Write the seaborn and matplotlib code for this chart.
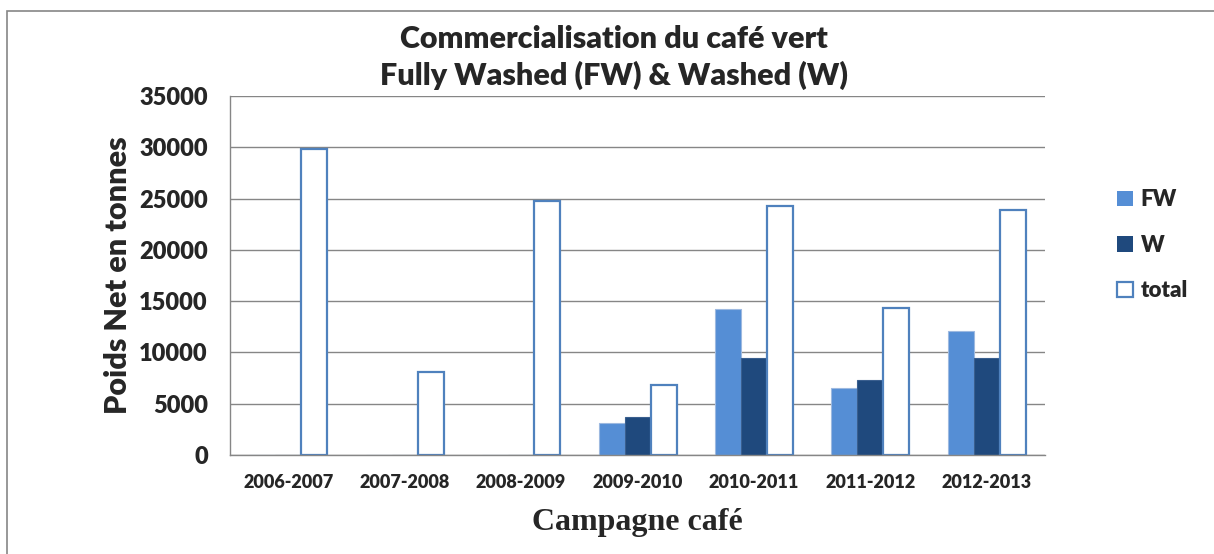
import numpy as np
import pandas as pd
import matplotlib
matplotlib.use("Agg")
import matplotlib.pyplot as plt
import seaborn as sns
from matplotlib.patches import Rectangle, Patch

campagnes = ["2006-2007", "2007-2008", "2008-2009", "2009-2010", "2010-2011", "2011-2012", "2012-2013"]
fw = [0, 0, 0, 3150, 14220, 6520, 12050]
w = [0, 0, 0, 3700, 9450, 7280, 9420]
total = [29800, 8050, 24800, 6850, 24250, 14290, 23870]
series = ["FW", "W", "total"]
yticks = [0, 5000, 10000, 15000, 20000, 25000, 30000, 35000]

sns.set_style("white")
plt.rcParams['font.family'] = ['Lato', 'DejaVu Sans']

df = pd.DataFrame({
    "campagne": campagnes * 3,
    "serie": ["FW"] * 7 + ["W"] * 7 + ["total"] * 7,
    "valeur": fw + w + total,
})

fig = plt.figure(figsize=(12.14, 5.54), dpi=100)
ax = fig.add_axes([0.1895, 0.1787, 0.6713, 0.648])

palette = {"FW": "#558ED5", "W": "#1F497D", "total": "#FFFFFF"}
sns.barplot(data=df, x="campagne", y="valeur", hue="serie", hue_order=series,
            palette=palette, width=0.67, ax=ax, legend=False, saturation=1)

edge = {"FW": "#9DB9E0", "W": "#3A5F8F", "total": "#4F81BD"}
lw = {"FW": 0.8, "W": 0.8, "total": 1.6}
for cont, s in zip(ax.containers, series):
    for p in cont.patches:
        p.set_edgecolor(edge[s])
        p.set_linewidth(lw[s])
        if s == "total":
            p.set_facecolor("white")

ax.set_ylim(0, 35000)
ax.set_xlim(-0.5, 6.5)
ax.set_yticks(yticks)
ax.set_yticklabels([str(v) for v in yticks], fontsize=17, fontweight="heavy")
ax.set_xticks(range(7))
ax.set_xticklabels(campagnes, fontsize=13, fontweight="heavy")
ax.tick_params(axis="x", length=0, pad=14)
ax.tick_params(axis="y", length=7, color="#868686", direction="out", width=1, pad=9)
# category boundary ticks on x axis
ax.set_xticks(np.arange(-0.5, 7.0, 1.0), minor=True)
ax.tick_params(axis="x", which="minor", length=7, color="#868686", width=1, direction="out")

ax.yaxis.grid(True, color="#868686", linewidth=1)
ax.set_axisbelow(True)
for side in ["top", "right"]:
    ax.spines[side].set_visible(False)
for side in ["left", "bottom"]:
    ax.spines[side].set_color("#868686")
    ax.spines[side].set_linewidth(1)

ax.set_ylabel("Poids Net en tonnes", fontsize=22, fontweight="heavy", labelpad=5)
ax.set_xlabel("Campagne café", fontsize=23, fontweight="bold",
              family=["Liberation Serif", "DejaVu Serif"], labelpad=12)

fig.text(0.506, 0.896, "Commercialisation du café vert\nFully Washed (FW) & Washed (W)",
         ha="center", va="center", fontsize=22, fontweight="heavy", linespacing=1.3)

handles = [Patch(facecolor=palette[s], edgecolor=edge[s] if s == "total" else palette[s],
                 linewidth=1.6 if s == "total" else 0) for s in series]
leg = fig.legend(handles, series, loc="center left", bbox_to_anchor=(0.904, 0.557),
                 frameon=False, prop={"weight": "heavy", "size": 16},
                 handlelength=0.7, handleheight=0.7, labelspacing=1.1, handletextpad=0.35)

fig.patches.append(Rectangle((0.006, -0.1), 1.2, 1.08, transform=fig.transFigure,
                             fill=False, edgecolor="#868686", linewidth=1.2))

fig.savefig("out.png", dpi=100)
